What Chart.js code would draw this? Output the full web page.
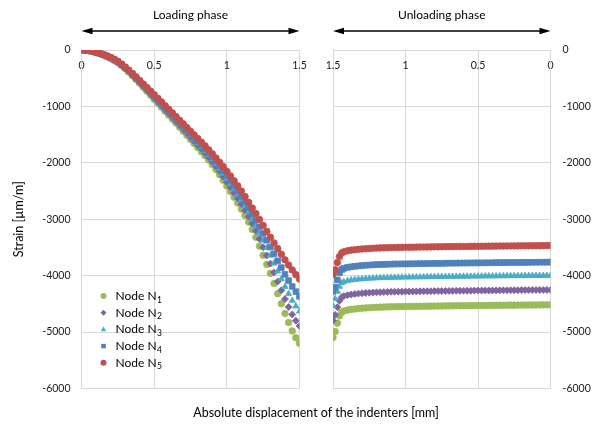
<!DOCTYPE html>
<html>
<head>
<meta charset="utf-8">
<script src="https://cdn.jsdelivr.net/npm/chart.js@4.4.1/dist/chart.umd.min.js"></script>
<style>
  html, body { margin: 0; padding: 0; background: #fff; }
  #wrap { position: relative; width: 600px; height: 429px; }
  #wrap canvas { position: absolute; left: 0; top: 0; }
</style>
</head>
<body>
<div id="wrap">
  <canvas id="loading" width="600" height="429"></canvas>
  <canvas id="unloading" width="600" height="429"></canvas>
</div>
<script>
// displacement values (mm)
const loadX = [0, 0.025, 0.05, 0.075, 0.1, 0.125, 0.15, 0.175, 0.2, 0.225, 0.25, 0.275, 0.3, 0.325, 0.35, 0.375, 0.4, 0.425, 0.45, 0.475, 0.5, 0.525, 0.55, 0.575, 0.6, 0.625, 0.65, 0.675, 0.7, 0.725, 0.75, 0.775, 0.8, 0.825, 0.85, 0.875, 0.9, 0.925, 0.95, 0.975, 1, 1.025, 1.05, 1.075, 1.1, 1.125, 1.15, 1.175, 1.2, 1.225, 1.25, 1.275, 1.3, 1.325, 1.35, 1.375, 1.4, 1.425, 1.45, 1.475, 1.5];
const unloadX = [1.5, 1.485, 1.47, 1.455, 1.44, 1.425, 1.4, 1.375, 1.35, 1.325, 1.3, 1.275, 1.25, 1.225, 1.2, 1.175, 1.15, 1.125, 1.1, 1.075, 1.05, 1.025, 1, 0.975, 0.95, 0.925, 0.9, 0.875, 0.85, 0.825, 0.8, 0.775, 0.75, 0.725, 0.7, 0.675, 0.65, 0.625, 0.6, 0.575, 0.55, 0.525, 0.5, 0.475, 0.45, 0.425, 0.4, 0.375, 0.35, 0.325, 0.3, 0.275, 0.25, 0.225, 0.2, 0.175, 0.15, 0.125, 0.1, 0.075, 0.05, 0.025, 0];

// strain, loading phase (µm/m)
const loadN1 = [0, -3, -12, -26, -45, -66, -90, -118, -150, -185, -225, -275, -330, -391, -455, -522, -590, -660, -730, -802, -875, -945, -1015, -1085, -1155, -1225, -1295, -1367, -1440, -1512, -1585, -1657, -1730, -1802, -1875, -1950, -2030, -2117, -2210, -2308, -2410, -2510, -2610, -2713, -2820, -2932, -3050, -3180, -3320, -3478, -3640, -3800, -3960, -4140, -4320, -4497, -4670, -4830, -4980, -5100, -5200];
const loadN2 = [0, -3, -11, -25, -44, -64, -87, -114, -145, -179, -218, -268, -322, -382, -444, -510, -576, -644, -712, -782, -852, -921, -989, -1058, -1127, -1195, -1264, -1334, -1405, -1475, -1546, -1616, -1687, -1757, -1828, -1901, -1979, -2062, -2151, -2243, -2340, -2435, -2532, -2631, -2734, -2842, -2956, -3077, -3207, -3350, -3497, -3642, -3787, -3946, -4104, -4260, -4414, -4555, -4688, -4798, -4892];
const loadN3 = [0, -3, -11, -24, -42, -62, -85, -111, -140, -174, -212, -261, -315, -373, -435, -499, -565, -631, -697, -764, -832, -900, -967, -1035, -1102, -1170, -1237, -1306, -1375, -1443, -1512, -1581, -1650, -1718, -1787, -1859, -1935, -2015, -2100, -2188, -2280, -2371, -2465, -2560, -2660, -2765, -2875, -2990, -3110, -3241, -3375, -3507, -3640, -3780, -3920, -4058, -4195, -4321, -4440, -4541, -4630];
const loadN4 = [0, -3, -11, -23, -41, -60, -83, -108, -135, -169, -207, -255, -308, -365, -426, -489, -553, -618, -683, -747, -813, -879, -946, -1012, -1078, -1145, -1211, -1278, -1345, -1412, -1479, -1546, -1613, -1680, -1747, -1817, -1891, -1968, -2049, -2133, -2220, -2308, -2398, -2490, -2586, -2688, -2795, -2903, -3013, -3133, -3253, -3373, -3493, -3614, -3736, -3857, -3977, -4087, -4192, -4284, -4368];
const loadN5 = [0, -3, -10, -22, -40, -58, -80, -104, -130, -163, -200, -248, -300, -356, -415, -477, -540, -602, -665, -727, -790, -855, -920, -985, -1050, -1115, -1180, -1245, -1310, -1375, -1440, -1505, -1570, -1635, -1700, -1768, -1840, -1913, -1990, -2068, -2150, -2233, -2320, -2408, -2500, -2598, -2700, -2800, -2900, -3005, -3110, -3215, -3320, -3420, -3520, -3620, -3720, -3812, -3900, -3982, -4060];

// strain, unloading phase (µm/m)
const unloadN1 = [-5096, -4990, -4842, -4712, -4647, -4627, -4610, -4598, -4590, -4583, -4577, -4572, -4568, -4564, -4561, -4558, -4556, -4554, -4552, -4550, -4549, -4548, -4547, -4546, -4545, -4544, -4543, -4542, -4541, -4540, -4539, -4538, -4537, -4536, -4535, -4535, -4534, -4533, -4532, -4532, -4531, -4530, -4529, -4529, -4528, -4527, -4527, -4526, -4525, -4525, -4524, -4523, -4523, -4522, -4521, -4521, -4520, -4519, -4519, -4518, -4518, -4517, -4517];
const unloadN2 = [-4795, -4695, -4558, -4446, -4382, -4362, -4345, -4333, -4325, -4318, -4312, -4307, -4303, -4299, -4296, -4293, -4291, -4289, -4287, -4285, -4284, -4283, -4282, -4281, -4280, -4279, -4278, -4277, -4276, -4275, -4274, -4273, -4272, -4271, -4270, -4270, -4269, -4268, -4267, -4267, -4266, -4265, -4264, -4264, -4263, -4262, -4262, -4261, -4260, -4260, -4259, -4258, -4258, -4257, -4256, -4256, -4255, -4254, -4254, -4253, -4253, -4252, -4252];
const unloadN3 = [-4535, -4410, -4281, -4193, -4128, -4108, -4091, -4079, -4071, -4064, -4058, -4053, -4049, -4045, -4042, -4039, -4037, -4035, -4033, -4031, -4030, -4029, -4028, -4027, -4026, -4025, -4024, -4023, -4022, -4021, -4020, -4019, -4018, -4017, -4016, -4016, -4015, -4014, -4013, -4013, -4012, -4011, -4010, -4010, -4009, -4008, -4008, -4007, -4006, -4006, -4005, -4004, -4004, -4003, -4002, -4002, -4001, -4000, -4000, -3999, -3999, -3998, -3998];
const unloadN4 = [-4281, -4204, -4075, -3945, -3891, -3871, -3854, -3842, -3834, -3827, -3821, -3816, -3812, -3808, -3805, -3802, -3800, -3798, -3796, -3794, -3793, -3792, -3791, -3790, -3789, -3788, -3787, -3786, -3785, -3784, -3783, -3782, -3781, -3780, -3779, -3779, -3778, -3777, -3776, -3776, -3775, -3774, -3773, -3773, -3772, -3771, -3771, -3770, -3769, -3769, -3768, -3767, -3767, -3766, -3765, -3765, -3764, -3763, -3763, -3762, -3762, -3761, -3761];
const unloadN5 = [-3975, -3897, -3768, -3660, -3597, -3577, -3560, -3548, -3540, -3533, -3527, -3522, -3518, -3514, -3511, -3508, -3506, -3504, -3502, -3500, -3499, -3498, -3497, -3496, -3495, -3494, -3493, -3492, -3491, -3490, -3489, -3488, -3487, -3486, -3485, -3485, -3484, -3483, -3482, -3482, -3481, -3480, -3479, -3479, -3478, -3477, -3477, -3476, -3475, -3475, -3474, -3473, -3473, -3472, -3471, -3471, -3470, -3469, -3469, -3468, -3468, -3467, -3467];

const nodeLabels = ['Node N1', 'Node N2', 'Node N3', 'Node N4', 'Node N5'];
const strainTicks = [0, -1000, -2000, -3000, -4000, -5000, -6000];
const dispTicks = [0, 0.5, 1, 1.5];

// styling
const colors = ['#9BBB59', '#8064A2', '#4BACC6', '#4F81BD', '#C0504D'];
const shapes = ['circle', 'rectRot', 'triangle', 'rect', 'circle'];
const radii = [3.3, 3.5, 3.6, 4, 3.3];
const gridColor = '#D9D9D9';
const textColor = '#1a1a1a';

Chart.defaults.font.family = 'Lato, "Open Sans", sans-serif';
Chart.defaults.color = textColor;

const makeSets = (xs, series) => series.map((ys, i) => ({
  label: nodeLabels[i],
  data: xs.map((x, k) => ({ x, y: ys[k] })),
  order: series.length - i,          // N5 on top, N1 underneath
  pointStyle: shapes[i],
  pointRadius: radii[i],
  pointBorderWidth: 0.8,
  backgroundColor: colors[i],
  borderColor: colors[i],
  showLine: false,
}));

// header text with a two-headed arrow above each plot
const phaseHeader = {
  id: 'phaseHeader',
  afterDraw(chart, args, opts) {
    const { ctx, chartArea } = chart;
    const { left, right } = chartArea;
    ctx.save();
    ctx.fillStyle = '#000';
    ctx.font = '12px Lato, "Open Sans", sans-serif';
    ctx.textAlign = 'center';
    ctx.textBaseline = 'middle';
    ctx.fillText(opts.text, (left + right) / 2, 15);

    const y = 31, head = 11, half = 3.2;
    ctx.strokeStyle = '#000';
    ctx.lineWidth = 1.3;
    ctx.beginPath();
    ctx.moveTo(left + 4, y);
    ctx.lineTo(right - 4, y);
    ctx.stroke();
    ctx.beginPath();
    ctx.moveTo(left, y);
    ctx.lineTo(left + head, y - half);
    ctx.lineTo(left + head, y + half);
    ctx.closePath();
    ctx.moveTo(right, y);
    ctx.lineTo(right - head, y - half);
    ctx.lineTo(right - head, y + half);
    ctx.closePath();
    ctx.fill();
    ctx.restore();
  }
};

function marker(ctx, style, x, y, r) {
  ctx.beginPath();
  if (style === 'circle') {
    ctx.arc(x, y, r, 0, Math.PI * 2);
  } else if (style === 'rectRot') {
    ctx.moveTo(x, y - r); ctx.lineTo(x + r, y); ctx.lineTo(x, y + r); ctx.lineTo(x - r, y);
  } else if (style === 'triangle') {
    ctx.moveTo(x, y - r); ctx.lineTo(x + r * 0.9, y + r * 0.6); ctx.lineTo(x - r * 0.9, y + r * 0.6);
  } else {
    ctx.rect(x - r * 0.75, y - r * 0.75, r * 1.5, r * 1.5);
  }
  ctx.closePath();
  ctx.fill();
}

// legend inside the left plot, plus the shared x-axis title
const nodeLegend = {
  id: 'nodeLegend',
  afterDraw(chart) {
    const { ctx, chartArea } = chart;
    ctx.save();
    ctx.textBaseline = 'alphabetic';
    nodeLabels.forEach((lab, i) => {
      const y = 296 + i * 16.7;
      ctx.fillStyle = colors[i];
      marker(ctx, shapes[i], chartArea.left + 22, y, 3);
      ctx.fillStyle = '#000';
      ctx.font = '12px Lato, "Open Sans", sans-serif';
      const main = lab.slice(0, -1);
      const tx = chartArea.left + 34;
      ctx.textAlign = 'left';
      ctx.fillText(main, tx, y + 4);
      const w = ctx.measureText(main).width;
      ctx.font = '8.5px Lato, "Open Sans", sans-serif';
      ctx.fillText(lab.slice(-1), tx + w + 0.5, y + 6.5);
    });
    ctx.font = '12.5px Lato, "Open Sans", sans-serif';
    ctx.textAlign = 'center';
    ctx.textBaseline = 'middle';
    ctx.fillStyle = '#000';
    ctx.fillText('Absolute displacement of the indenters [mm]', 316, 413);
    ctx.restore();
  }
};

function strainAxis(side, width, withTitle) {
  return {
    type: 'linear',
    position: side,
    min: -6000,
    max: 0,
    afterBuildTicks: s => { s.ticks = strainTicks.map(v => ({ value: v })); },
    afterFit: s => { s.width = width; },
    ticks: { padding: side === 'left' ? 11 : 12, font: { size: 10.5 }, color: textColor, callback: v => String(v) },
    grid: { color: gridColor, drawTicks: false },
    border: { color: gridColor },
    title: {
      display: withTitle,
      text: 'Strain [µm/m]',
      color: '#000',
      font: { size: 12.5 },
      padding: { top: 11, bottom: 0 }
    }
  };
}

function dispAxis(reverse) {
  return {
    type: 'linear',
    position: { y: 0 },
    min: 0,
    max: 1.5,
    reverse: reverse,
    afterBuildTicks: s => { s.ticks = dispTicks.map(v => ({ value: v })); },
    ticks: { padding: 9, font: { size: 10.5 }, color: textColor, callback: v => String(v) },
    grid: { color: gridColor, drawTicks: false },
    border: { color: gridColor }
  };
}

new Chart(document.getElementById('loading'), {
  type: 'scatter',
  data: { datasets: makeSets(loadX, [loadN1, loadN2, loadN3, loadN4, loadN5]) },
  options: {
    responsive: false,
    animation: false,
    layout: { padding: { left: 0, right: 300.5, top: 50, bottom: 40.5 } },
    scales: { x: dispAxis(false), y: strainAxis('left', 81.5, true) },
    plugins: {
      legend: { display: false },
      tooltip: { enabled: false },
      phaseHeader: { text: 'Loading phase' }
    }
  },
  plugins: [phaseHeader, nodeLegend]
});

new Chart(document.getElementById('unloading'), {
  type: 'scatter',
  data: { datasets: makeSets(unloadX, [unloadN1, unloadN2, unloadN3, unloadN4, unloadN5]) },
  options: {
    responsive: false,
    animation: false,
    layout: { padding: { left: 333, right: 0, top: 50, bottom: 40.5 } },
    scales: { x: dispAxis(true), y: strainAxis('right', 49.5, false) },
    plugins: {
      legend: { display: false },
      tooltip: { enabled: false },
      phaseHeader: { text: 'Unloading phase' }
    }
  },
  plugins: [phaseHeader]
});
</script>
</body>
</html>
